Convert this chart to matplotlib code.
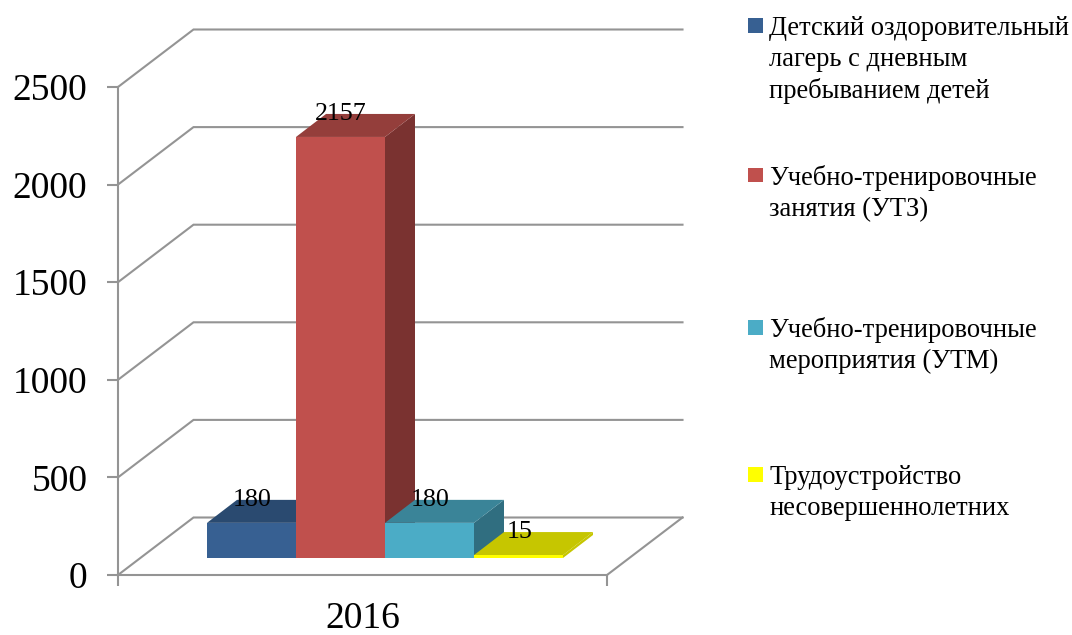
import matplotlib
matplotlib.use("Agg")
import matplotlib.pyplot as plt
from matplotlib.patches import Polygon, Rectangle

# Data
years = ["2016"]
series_names = [
    "Детский оздоровительный\nлагерь с дневным\nпребыванием детей",
    "Учебно-тренировочные\nзанятия (УТЗ)",
    "Учебно-тренировочные\nмероприятия (УТМ)",
    "Трудоустройство\nнесовершеннолетних",
]
series_values = [180, 2157, 180, 15]
y_ticks = [0, 500, 1000, 1500, 2000, 2500]

# Styles: front, top, side
front_colors = ["#376092", "#C0504D", "#4BACC6", "#FFFF00"]
top_colors = ["#2A4A70", "#943E3B", "#3A8498", "#C6C600"]
side_colors = ["#254061", "#7A3230", "#306E80", "#C6C600"]
legend_colors = ["#376092", "#C0504D", "#4BACC6", "#FFFF00"]
legend_tops = [18, 168, 320, 467]
text_tops = [16, 165, 317, 465]
GRID = "#949494"
LW = 1.5

W, H = 1072, 635
plt.rcParams["font.family"] = ["Liberation Serif", "DejaVu Serif"]
fig = plt.figure(figsize=(W / 100, H / 100), dpi=100, facecolor="white")
L, R, T, B = 118, 607, 87, 575
ax = fig.add_axes([L / W, 1 - B / H, (R - L) / W, (B - T) / H])
ax.set_xlim(0, 1)
ax.set_ylim(0, 2500)
ax.patch.set_visible(False)

px_x = 1 / (R - L)
px_y = 2500 / (B - T)

# wall depth
wall_dx = 75.5 * px_x
wall_dy = 57.5 * px_y

for s in ["top", "right"]:
    ax.spines[s].set_visible(False)
for s in ["left", "bottom"]:
    ax.spines[s].set_color(GRID)
    ax.spines[s].set_linewidth(LW)

# Grid on the walls
for v in y_ticks:
    ax.plot([0, wall_dx, 1 + wall_dx], [v, v + wall_dy, v + wall_dy],
            color=GRID, lw=LW, clip_on=False, zorder=1, solid_joinstyle="miter")
ax.plot([1, 1 + wall_dx], [0, wall_dy], color=GRID, lw=LW, clip_on=False, zorder=1)

# Ticks
ax.set_yticks(y_ticks)
ax.set_yticklabels([str(v) for v in y_ticks], fontsize=27, color="black")
ax.tick_params(axis="y", which="major", length=8, width=LW, color=GRID, pad=14)
ax.set_xticks([0.5])
ax.set_xticklabels(years, fontsize=27, color="black")
ax.tick_params(axis="x", which="major", length=0, pad=19.3)
ax.set_xticks([0, 1], minor=True)
ax.tick_params(axis="x", which="minor", length=8, width=LW, color=GRID)

# 3D bars
bar_start = (207 - L - 22.3) * px_x
bar_w = 89 * px_x
base = 17 * px_y
ddx = 30 * px_x
ddy = 23 * px_y
fx = 22.3 * px_x
for i, v in enumerate(series_values):
    x0 = bar_start + i * bar_w + fx
    x1 = x0 + bar_w
    y0 = base
    y1 = base + v
    z = 3 + i
    ax.add_patch(Polygon([(x1, y0), (x1 + ddx, y0 + ddy), (x1 + ddx, y1 + ddy), (x1, y1)],
                         fc=side_colors[i], ec="none", clip_on=False, zorder=z))
    ax.add_patch(Polygon([(x0, y1), (x1, y1), (x1 + ddx, y1 + ddy), (x0 + ddx, y1 + ddy)],
                         fc=top_colors[i], ec="none", clip_on=False, zorder=z))
    ax.add_patch(Rectangle((x0, y0), bar_w, v, fc=front_colors[i], ec="none",
                           clip_on=False, zorder=z))
    ax.annotate(str(v), xy=((x0 + x1) / 2, y1), xytext=(0.5, 12),
                textcoords="offset points", ha="center", va="baseline",
                fontsize=18.7, color="black", zorder=10, annotation_clip=False)

# Legend
for name, c, mt, tt in zip(series_names, legend_colors, legend_tops, text_tops):
    fig.add_artist(Rectangle((748 / W, 1 - (mt + 14.5) / H), 14.5 / W, 14.5 / H,
                             transform=fig.transFigure, fc=c, ec="none"))
    fig.text(769 / W, 1 - tt / H, name, fontsize=19.1, va="top", ha="left",
             color="black", linespacing=1.3)

fig.savefig("out.png", dpi=100, facecolor="white")
